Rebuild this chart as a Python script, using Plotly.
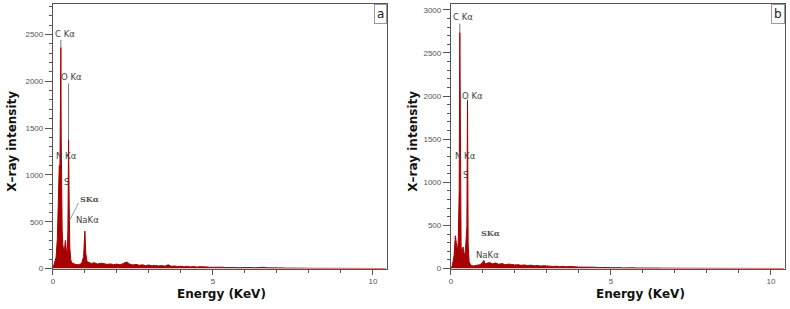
import plotly.graph_objects as go

# EDX spectra (energy in keV, counts)
# low-energy region (peaks) for sample a
energy_low_a = [0.00, 0.05, 0.10, 0.14, 0.17, 0.20, 0.22, 0.24, 0.25, 0.26, 0.27, 0.29,
                0.31, 0.34, 0.37, 0.39, 0.42, 0.45, 0.47, 0.49, 0.51, 0.53, 0.56, 0.60,
                0.70, 0.80, 0.90, 0.96, 1.00, 1.03, 1.07]
counts_low_a = [0, 60, 120, 320, 700, 1100, 1050, 1600, 2360, 1400, 900, 420,
                260, 180, 230, 300, 200, 160, 420, 1376, 700, 220, 90, 60,
                45, 40, 55, 130, 400, 160, 70]

energy_low_b = [0.00, 0.05, 0.10, 0.14, 0.17, 0.20, 0.23, 0.26, 0.28, 0.30, 0.32, 0.35,
                0.38, 0.41, 0.44, 0.47, 0.50, 0.52, 0.54, 0.57, 0.62, 0.70, 0.80, 0.90,
                0.97, 1.03, 1.07]
counts_low_b = [0, 40, 150, 380, 300, 200, 300, 900, 2736, 800, 250, 170,
                250, 180, 150, 300, 490, 1950, 300, 80, 40, 30, 35, 45,
                60, 95, 55]

# background channels 1.1 - 10.4 keV
energy_bg = [1.1, 1.2, 1.3, 1.4, 1.5, 1.6, 1.7, 1.8, 1.9, 2.0,
             2.1, 2.2, 2.3, 2.4, 2.5, 2.6, 2.7, 2.8, 2.9, 3.0,
             3.1, 3.2, 3.3, 3.4, 3.5, 3.6, 3.7, 3.8, 3.9, 4.0,
             4.1, 4.2, 4.3, 4.4, 4.5, 4.6, 4.7, 4.8, 4.9, 5.0,
             5.1, 5.2, 5.3, 5.4, 5.5, 5.6, 5.7, 5.8, 5.9, 6.0,
             6.1, 6.2, 6.3, 6.4, 6.5, 6.6, 6.7, 6.8, 6.9, 7.0,
             7.1, 7.2, 7.3, 7.4, 7.5, 7.6, 7.7, 7.8, 7.9, 8.0,
             8.1, 8.2, 8.3, 8.4, 8.5, 8.6, 8.7, 8.8, 8.9, 9.0,
             9.1, 9.2, 9.3, 9.4, 9.5, 9.6, 9.7, 9.8, 9.9, 10.0,
             10.1, 10.2, 10.3, 10.4]
counts_bg_a = [70, 55, 62, 48, 58, 52, 45, 50, 42, 48,
               40, 55, 70, 48, 38, 45, 35, 40, 32, 38,
               30, 34, 28, 32, 26, 40, 24, 28, 22, 25,
               20, 24, 18, 22, 16, 20, 15, 18, 14, 16,
               14, 12, 15, 11, 13, 10, 12, 9, 11, 10,
               9, 12, 8, 10, 7, 14, 8, 9, 6, 8,
               6, 7, 5, 6, 4, 5, 4, 3, 4, 3,
               3, 2, 3, 2, 2, 3, 2, 1, 2, 1,
               1, 2, 1, 1, 1, 1, 1, 1, 1, 1,
               1, 1, 1, 1]
counts_bg_b = [60, 70, 55, 65, 50, 58, 45, 52, 48, 42,
               45, 38, 42, 35, 40, 32, 36, 30, 33, 28,
               30, 25, 28, 22, 26, 20, 24, 18, 20, 17,
               18, 15, 17, 13, 16, 12, 14, 11, 13, 10,
               12, 9, 11, 8, 10, 8, 9, 7, 8, 6,
               7, 6, 8, 5, 6, 5, 7, 4, 5, 4,
               4, 5, 3, 4, 3, 3, 2, 3, 2, 2,
               2, 2, 1, 2, 1, 1, 2, 1, 1, 1,
               1, 1, 1, 1, 1, 1, 1, 1, 1, 1,
               1, 1, 1, 1]

# peak labels: text, energy, counts (label anchor)
labels_a = [("C Kα", 0.0, 2500), ("O Kα", 0.19, 2050), ("N Kα", 0.03, 1200),
            ("S", 0.28, 925), ("NaKα", 0.66, 515)]
labels_b = [("C Kα", 0.0, 2920), ("O Kα", 0.28, 2000), ("N Kα", 0.06, 1310),
            ("S", 0.31, 1080), ("NaKα", 0.72, 160)]
skα_a = (0.78, 745)
skα_b = (0.87, 410)

# gray leader lines (energy, from counts, to counts)
leaders_a = [(0.25, 2360, 2440), (0.49, 1376, 1975)]
leaders_b = [(0.28, 2736, 2840), (0.52, 1950, 1960)]

red = "#a80000"
fig = go.Figure()

for xa, ya, e_low, c_low, c_bg, leaders in [
        ("x", "y", energy_low_a, counts_low_a, counts_bg_a, leaders_a),
        ("x2", "y2", energy_low_b, counts_low_b, counts_bg_b, leaders_b)]:
    fig.add_trace(go.Scatter(x=e_low + energy_bg, y=c_low + c_bg, mode="lines",
                             line=dict(color=red, width=1), fill="tozeroy",
                             fillcolor=red, xaxis=xa, yaxis=ya, showlegend=False))
    for e, c0, c1 in leaders:
        fig.add_trace(go.Scatter(x=[e, e], y=[c0, c1], mode="lines",
                                 line=dict(color="#777", width=1),
                                 xaxis=xa, yaxis=ya, showlegend=False))

# SKα pointer in panel a
fig.add_trace(go.Scatter(x=[0.80, 0.53], y=[700, 520], mode="lines",
                         line=dict(color="#8aa0b8", width=1),
                         xaxis="x", yaxis="y", showlegend=False))

axis_common = dict(showline=True, linecolor="#555", linewidth=1, mirror=True,
                   ticks="outside", tickcolor="#555", showgrid=False, zeroline=False,
                   tickfont=dict(family="Liberation Sans", size=8, color="#555"))

fig.update_layout(
    width=790, height=309,
    margin=dict(l=0, r=0, t=0, b=0),
    paper_bgcolor="white", plot_bgcolor="white",
    xaxis=dict(domain=[51/790, 386/790], range=[0, 10.44], anchor="y",
               tickvals=[0, 5, 10], ticklen=5,
               minor=dict(dtick=1, ticks="outside", ticklen=3, tickcolor="#555"),
               **axis_common),
    yaxis=dict(domain=[1 - 273/309, 1 - 4/309], range=[0, 2825], anchor="x",
               dtick=500, ticklen=7,
               minor=dict(dtick=100, ticks="outside", ticklen=3, tickcolor="#555"),
               **axis_common),
    xaxis2=dict(domain=[450/790, 785/790], range=[0, 10.44], anchor="y2",
                tickvals=[0, 5, 10], ticklen=5,
                minor=dict(dtick=1, ticks="outside", ticklen=3, tickcolor="#555"),
                **axis_common),
    yaxis2=dict(domain=[1 - 273/309, 1 - 4/309], range=[0, 3068], anchor="x2",
                dtick=500, ticklen=7,
                minor=dict(dtick=100, ticks="outside", ticklen=3, tickcolor="#555"),
                **axis_common),
)

lab_font = dict(family="DejaVu Sans", size=8.5, color="#444")
for xa, ya, labels, sk in [("x", "y", labels_a, skα_a), ("x2", "y2", labels_b, skα_b)]:
    for txt, e, c in labels:
        fig.add_annotation(x=e, y=c, xref=xa, yref=ya, text=txt, showarrow=False,
                           xanchor="left", yanchor="middle", font=lab_font)
    fig.add_annotation(x=sk[0], y=sk[1], xref=xa, yref=ya, text="<b>SKα</b>",
                       showarrow=False, xanchor="left", yanchor="middle",
                       font=dict(family="DejaVu Serif", size=8, color="#555"))

# panel letters
for x, letter in [(386/790, "a"), (785/790, "b")]:
    fig.add_annotation(x=x, y=1 - 4/309, xref="paper", yref="paper", text=letter,
                       showarrow=False, xanchor="right", yanchor="top",
                       font=dict(family="DejaVu Sans", size=12, color="#222"),
                       bordercolor="#999", borderwidth=1, borderpad=2, bgcolor="white")

# axis titles
title_font = dict(family="DejaVu Sans", size=12, color="#111")
for x in [220/790, 640/790]:
    fig.add_annotation(x=x, y=1 - 299/309, xref="paper", yref="paper",
                       text="<b>Energy (KeV)</b>", showarrow=False,
                       xanchor="center", yanchor="middle", font=title_font)
for x in [10/790, 412/790]:
    fig.add_annotation(x=x, y=1 - 143/309, xref="paper", yref="paper",
                       text="<b>X–ray intensity</b>", showarrow=False, textangle=-90,
                       xanchor="center", yanchor="middle", font=title_font)

# drop the default page margin so the figure sits at the window origin
fig.write_html("out.html", config={"displayModeBar": False},
               post_script="document.body.style.margin='0';")
